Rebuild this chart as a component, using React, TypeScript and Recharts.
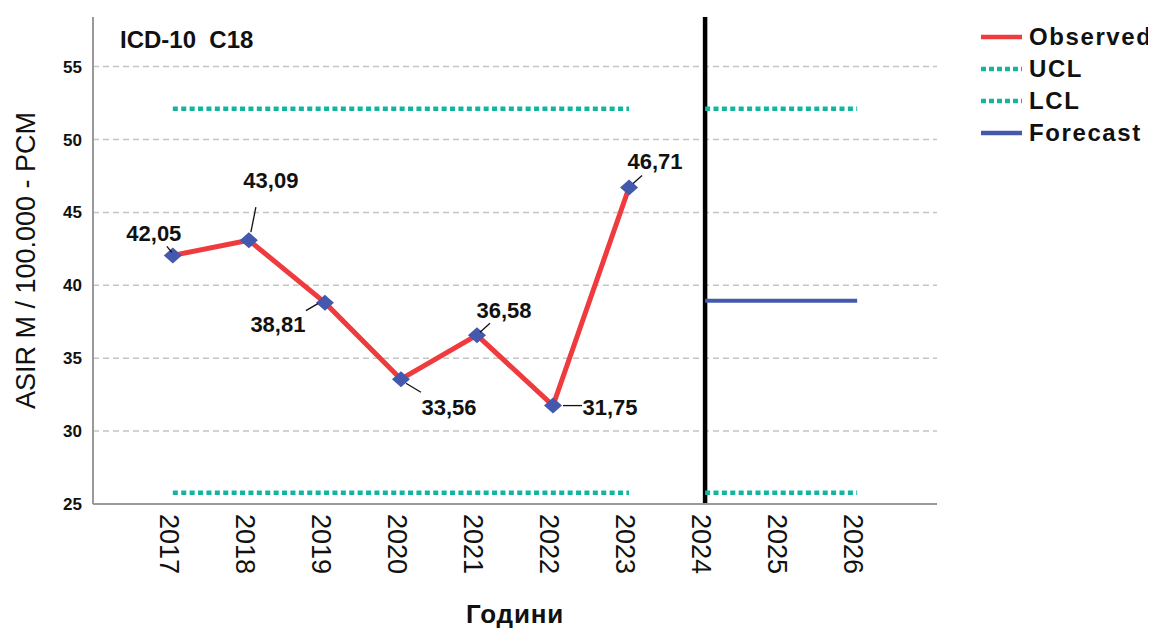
import { LineChart, Line, XAxis, YAxis, CartesianGrid, Legend, ReferenceLine } from "recharts"

const years = [2017, 2018, 2019, 2020, 2021, 2022, 2023, 2024, 2025, 2026]
const observed = [42.05, 43.09, 38.81, 33.56, 36.58, 31.75, 46.71, null, null, null]
const ucl = [52.1, 52.1, 52.1, 52.1, 52.1, 52.1, 52.1, 52.1, 52.1, 52.1]
const lcl = [25.78, 25.78, 25.78, 25.78, 25.78, 25.78, 25.78, 25.78, 25.78, 25.78]
const forecast = [null, null, null, null, null, null, null, 38.94, 38.94, 38.94]
const forecastFrom = 2024
const yTicks = [25, 30, 35, 40, 45, 50, 55]
const yDomain = [25, 58.4]

const FONT = "'Liberation Sans', Arial, sans-serif"
const RED = "#ef3a3e"
const BLUE = "#4459ad"
const TEAL = "#14b49e"

const data = years.map((year, i) => ({
  year,
  observed: observed[i],
  uclHist: year < forecastFrom ? ucl[i] : null,
  lclHist: year < forecastFrom ? lcl[i] : null,
  uclFc: year >= forecastFrom ? ucl[i] : null,
  lclFc: year >= forecastFrom ? lcl[i] : null,
  forecast: forecast[i],
}))

// where each value label sits relative to its point: text centre + leader line
const labelPlacement = [
  { dx: -19, dy: -22, line: [-6, -9, -1, -3] },
  { dx: 22, dy: -60, line: [7, -33, 2, -8] },
  { dx: -47, dy: 22, line: [-19, 8, -7, 1] },
  { dx: 48, dy: 28, line: [5, 4, 20, 13] },
  { dx: 27, dy: -25, line: [3, -3, 13, -12] },
  { dx: 57, dy: 2, line: [10, 0, 29, 0] },
  { dx: 26, dy: -26, line: [4, -4, 13, -12] },
]

const legendItems = [
  { name: "Observed", color: RED, dash: undefined },
  { name: "UCL", color: TEAL, dash: "5 3" },
  { name: "LCL", color: TEAL, dash: "5 3" },
  { name: "Forecast", color: BLUE, dash: undefined },
]

function Diamond(props: any) {
  const { cx, cy } = props
  if (cx == null || cy == null) return null
  return <polygon points={`${cx},${cy - 8} ${cx + 9},${cy} ${cx},${cy + 8} ${cx - 9},${cy}`} fill={BLUE} />
}

function ValueLabel(props: any) {
  const { x, y, value, index } = props
  const p = labelPlacement[index]
  if (value == null || !p) return null
  const [x1, y1, x2, y2] = p.line
  return (
    <g>
      <line x1={x + x1} y1={y + y1} x2={x + x2} y2={y + y2} stroke="#111" strokeWidth={1.3} />
      <text
        x={x + p.dx}
        y={y + p.dy}
        textAnchor="middle"
        dominantBaseline="central"
        fontFamily={FONT}
        fontSize={22}
        fontWeight="bold"
        fill="#111"
      >
        {String(value.toFixed(2)).replace(".", ",")}
      </text>
    </g>
  )
}

function YearTick(props: any) {
  const { x, y, payload } = props
  return (
    <text
      x={x}
      y={y}
      dy={13}
      transform={`rotate(90 ${x} ${y})`}
      textAnchor="start"
      fontFamily={FONT}
      fontSize={27}
      fill="#111"
    >
      {payload.value}
    </text>
  )
}

function LegendBox() {
  return (
    <div style={{ fontFamily: FONT }}>
      {legendItems.map((it) => (
        <div key={it.name} style={{ display: "flex", alignItems: "center", height: 32, whiteSpace: "nowrap" }}>
          <svg width={49} height={10} style={{ flexShrink: 0 }}>
            <line x1={1} y1={5} x2={42} y2={5} stroke={it.color} strokeWidth={4.5} strokeDasharray={it.dash} />
          </svg>
          <span style={{ fontSize: 24, fontWeight: "bold", color: "#111", letterSpacing: 1.6 }}>{it.name}</span>
        </div>
      ))}
    </div>
  )
}

// grid only at the inner ticks (30..55), not at the top edge
function gridRows({ offset }: any) {
  const [lo, hi] = yDomain
  return yTicks.slice(1).map((t) => offset.top + offset.height * (1 - (t - lo) / (hi - lo)))
}

export default function App() {
  return (
    <LineChart width={1140} height={620} data={data} margin={{ top: 9, right: 211, bottom: 0, left: 0 }}>
      <CartesianGrid
        vertical={false}
        stroke="#c4c4c4"
        strokeWidth={1.5}
        strokeDasharray="6 4"
        horizontalCoordinatesGenerator={gridRows}
      />
      <XAxis
        dataKey="year"
        type="number"
        domain={[2015.95, 2027.05]}
        ticks={years}
        allowDataOverflow
        height={124}
        tick={<YearTick />}
        tickLine={false}
        tickSize={0}
        tickMargin={10}
        axisLine={{ stroke: "#999", strokeWidth: 2 }}
        label={{
          value: "Години",
          position: "insideBottom",
          offset: 5,
          style: { fontFamily: FONT, fontSize: 26, fontWeight: "bold", fill: "#111", letterSpacing: 0.8 },
        }}
      />
      <YAxis
        type="number"
        domain={yDomain}
        ticks={yTicks}
        allowDataOverflow
        width={85}
        tickLine={false}
        tickSize={0}
        tickMargin={11}
        axisLine={{ stroke: "#999", strokeWidth: 2 }}
        tick={{ fontFamily: FONT, fontSize: 17, fontWeight: "bold", fill: "#111" }}
        label={{
          value: "ASIR M / 100.000 - PCM",
          angle: -90,
          position: "insideLeft",
          offset: 17,
          style: { fontFamily: FONT, fontSize: 27, fill: "#111", textAnchor: "middle" },
        }}
      />
      <Legend
        layout="vertical"
        align="center"
        verticalAlign="middle"
        content={<LegendBox />}
        wrapperStyle={{ position: "absolute", left: 972, top: 13, width: 184 }}
      />
      <ReferenceLine x={forecastFrom} stroke="#000" strokeWidth={4.5} ifOverflow="extendDomain" />
      <Line dataKey="uclHist" stroke={TEAL} strokeWidth={4.5} strokeDasharray="5 3.4" dot={false} isAnimationActive={false} />
      <Line dataKey="lclHist" stroke={TEAL} strokeWidth={4.5} strokeDasharray="5 3.4" dot={false} isAnimationActive={false} />
      <Line dataKey="uclFc" stroke={TEAL} strokeWidth={4.5} strokeDasharray="5 3.4" dot={false} isAnimationActive={false} />
      <Line dataKey="lclFc" stroke={TEAL} strokeWidth={4.5} strokeDasharray="5 3.4" dot={false} isAnimationActive={false} />
      <Line dataKey="forecast" stroke={BLUE} strokeWidth={4} dot={false} isAnimationActive={false} />
      <Line
        dataKey="observed"
        stroke={RED}
        strokeWidth={5}
        dot={<Diamond />}
        activeDot={false}
        label={<ValueLabel />}
        isAnimationActive={false}
      />
      <text x={112} y={31} dominantBaseline="central" fontFamily={FONT} fontSize={24} fontWeight="bold" fill="#111">
        {"ICD-10\u00a0 C18"}
      </text>
    </LineChart>
  )
}
